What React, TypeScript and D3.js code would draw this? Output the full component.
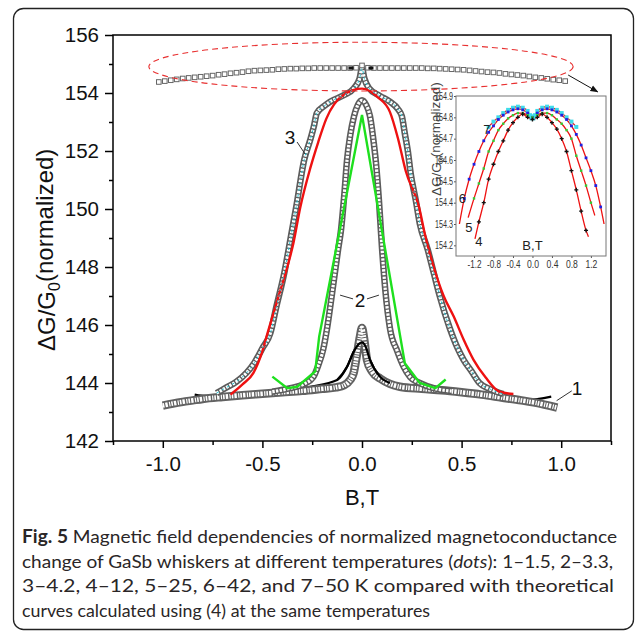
import { useEffect, useRef } from "react";
import * as d3 from "d3";

type P = [number, number];

// main axes
const yMajor = [142, 144, 146, 148, 150, 152, 154, 156];
const yMinor = [143, 145, 147, 149, 151, 153, 155];
const xMajor = [-1, -0.5, 0, 0.5, 1];
const xMinor = [-1.25, -0.75, -0.25, 0.25, 0.75, 1.25];

// inset axes
const iyTicks = [154.2, 154.3, 154.4, 154.5, 154.6, 154.7, 154.8, 154.9];
const ixTicks = [-1.2, -0.8, -0.4, 0, 0.4, 0.8, 1.2];

// 1.5 K dots (gray band)
const dots1: P[] = [
  [-1.0, 143.22], [-0.95, 143.29], [-0.9, 143.35], [-0.85, 143.4], [-0.8, 143.45],
  [-0.7, 143.52], [-0.6, 143.58], [-0.5, 143.63], [-0.4, 143.68], [-0.3, 143.73],
  [-0.2, 143.8], [-0.13, 143.85], [-0.09, 143.92], [-0.06, 144.1], [-0.042, 144.35],
  [-0.025, 145.0], [-0.01, 145.6], [0, 145.9], [0.01, 145.55], [0.025, 144.8],
  [0.05, 144.4], [0.092, 144.15], [0.14, 143.97], [0.19, 143.87], [0.3, 143.8],
  [0.4, 143.75], [0.5, 143.68], [0.6, 143.6], [0.7, 143.5], [0.8, 143.4],
  [0.9, 143.28], [0.98, 143.15],
];

// 3.3 K dots
const dots2: P[] = [
  [-0.45, 143.7], [-0.36, 143.82], [-0.29, 143.97], [-0.245, 144.2], [-0.22, 144.6],
  [-0.195, 145.15], [-0.175, 145.9], [-0.15, 147.1], [-0.12, 148.6], [-0.105, 149.3],
  [-0.09, 150.4], [-0.075, 151.7], [-0.06, 152.5], [-0.04, 153.2], [-0.02, 153.6],
  [0, 153.75], [0.02, 153.6], [0.04, 153.2], [0.055, 152.5], [0.07, 151.6],
  [0.085, 150.3], [0.1, 148.7], [0.117, 147.2], [0.14, 145.9], [0.177, 145.1],
  [0.21, 144.55], [0.242, 144.2], [0.29, 144.0], [0.36, 143.82], [0.45, 143.72],
];

// 4.2 K dots
const dots3: P[] = [
  [-0.73, 143.65], [-0.68, 143.85], [-0.63, 144.05], [-0.58, 144.35], [-0.54, 144.7],
  [-0.5, 145.2], [-0.46, 145.72], [-0.43, 146.63], [-0.39, 147.8], [-0.36, 148.93],
  [-0.33, 150.08], [-0.29, 151.7], [-0.26, 152.38], [-0.24, 152.9], [-0.227, 153.3],
  [-0.19, 153.55], [-0.16, 153.7], [-0.09, 153.93], [-0.04, 154.17], [-0.012, 154.5],
  [0, 154.85], [0.012, 154.5], [0.035, 154.17], [0.09, 153.9], [0.14, 153.7],
  [0.18, 153.45], [0.2, 153.2], [0.215, 152.6], [0.23, 152.0], [0.245, 151.2],
  [0.27, 150.3], [0.29, 149.5], [0.33, 148.6], [0.36, 147.8], [0.39, 147.0],
  [0.44, 145.9], [0.48, 145.2], [0.51, 144.8], [0.55, 144.4], [0.59, 144.0],
  [0.64, 143.8], [0.71, 143.62],
];

// theory curves, main plot
const theory1: P[] = [
  [-0.84, 143.6], [-0.78, 143.55], [-0.5, 143.68], [-0.26, 143.87], [-0.125, 144.1],
  [-0.075, 144.56], [-0.04, 145.1], [-0.015, 145.35], [0, 145.4], [0.015, 145.3],
  [0.04, 144.8], [0.09, 144.22], [0.14, 144.0], [0.24, 143.82], [0.5, 143.62],
  [0.83, 143.42], [0.95, 143.53],
];
const theory2: P[] = [
  [-0.45, 144.22], [-0.375, 143.82], [-0.325, 143.87], [-0.235, 144.4], [-0.215, 145.6],
  [0, 153.24], [0.215, 144.68], [0.29, 144.0], [0.368, 143.82], [0.42, 144.12],
];
const theory3: P[] = [
  [-0.66, 143.6], [-0.6, 143.95], [-0.545, 144.35], [-0.5, 145.1], [-0.475, 145.7],
  [-0.425, 146.85], [-0.375, 148.0], [-0.345, 148.8], [-0.31, 150.05], [-0.26, 151.4],
  [-0.22, 152.3], [-0.18, 153.1], [-0.09, 153.95], [0, 154.15], [0.08, 153.85],
  [0.14, 153.35], [0.18, 152.45], [0.22, 151.3], [0.285, 150.1], [0.32, 149.0],
  [0.36, 148.0], [0.41, 147.0], [0.46, 146.3], [0.51, 145.5], [0.56, 144.8],
  [0.62, 144.2], [0.69, 143.7], [0.76, 143.62],
];

// compressed high-T data shown in the ellipse
const rowPts: P[] = [
  [-1.02, 154.38], [-0.99, 154.41], [-0.96, 154.44], [-0.93, 154.47], [-0.9, 154.5],
  [-0.87, 154.52], [-0.84, 154.54], [-0.81, 154.56], [-0.78, 154.58], [-0.75, 154.6],
  [-0.72, 154.63], [-0.69, 154.65], [-0.66, 154.68], [-0.63, 154.7], [-0.6, 154.72],
  [-0.57, 154.75], [-0.54, 154.77], [-0.51, 154.78], [-0.48, 154.79], [-0.45, 154.8],
  [-0.42, 154.82], [-0.39, 154.83], [-0.36, 154.84], [-0.33, 154.84], [-0.3, 154.85],
  [-0.27, 154.85], [-0.24, 154.86], [-0.21, 154.86], [-0.18, 154.86], [-0.15, 154.86],
  [-0.12, 154.86], [-0.09, 154.86], [-0.06, 154.86], [-0.03, 154.87], [0, 154.95],
  [0.03, 154.87], [0.06, 154.86], [0.09, 154.86], [0.12, 154.86], [0.15, 154.86],
  [0.18, 154.86], [0.21, 154.86], [0.24, 154.86], [0.27, 154.86], [0.3, 154.86],
  [0.33, 154.85], [0.36, 154.85], [0.39, 154.84], [0.42, 154.83], [0.45, 154.82],
  [0.48, 154.81], [0.51, 154.8], [0.54, 154.78], [0.57, 154.76], [0.6, 154.74],
  [0.63, 154.72], [0.66, 154.71], [0.69, 154.69], [0.72, 154.66], [0.75, 154.64],
  [0.78, 154.62], [0.81, 154.6], [0.84, 154.57], [0.87, 154.54], [0.9, 154.52],
  [0.93, 154.49], [0.96, 154.46], [0.99, 154.44], [1.02, 154.41],
];
const rowMarks = [-0.055, 0.045];

// inset curves 4-7 (12, 25, 42, 50 K)
const inset4: P[] = [
  [-1.18, 154.23], [-1.1, 154.31], [-1.0, 154.4], [-0.9, 154.51], [-0.8, 154.58],
  [-0.7, 154.64], [-0.6, 154.69], [-0.5, 154.74], [-0.4, 154.775], [-0.3, 154.8],
  [-0.2, 154.815], [-0.1, 154.8], [0, 154.79], [0.1, 154.8], [0.2, 154.815],
  [0.3, 154.8], [0.4, 154.775], [0.5, 154.745], [0.6, 154.7], [0.7, 154.64],
  [0.8, 154.55], [0.9, 154.46], [1.0, 154.36], [1.1, 154.27], [1.15, 154.24],
];
const inset5: P[] = [
  [-1.32, 154.33], [-1.2, 154.42], [-1.1, 154.49], [-1.0, 154.56], [-0.9, 154.64],
  [-0.8, 154.69], [-0.7, 154.74], [-0.6, 154.77], [-0.5, 154.795], [-0.4, 154.81],
  [-0.3, 154.82], [-0.2, 154.82], [-0.1, 154.81], [0, 154.8], [0.1, 154.81],
  [0.2, 154.82], [0.3, 154.82], [0.4, 154.81], [0.5, 154.79], [0.6, 154.77],
  [0.7, 154.74], [0.8, 154.7], [0.9, 154.62], [1.0, 154.55], [1.1, 154.48],
  [1.2, 154.4], [1.28, 154.34],
];
const inset6: P[] = [
  [-1.5, 154.3], [-1.4, 154.42], [-1.3, 154.51], [-1.2, 154.58], [-1.1, 154.64],
  [-1.0, 154.69], [-0.9, 154.73], [-0.8, 154.76], [-0.7, 154.79], [-0.6, 154.81],
  [-0.5, 154.825], [-0.4, 154.835], [-0.3, 154.84], [-0.2, 154.835], [-0.1, 154.82],
  [0, 154.8], [0.1, 154.82], [0.2, 154.835], [0.3, 154.84], [0.4, 154.835],
  [0.5, 154.825], [0.6, 154.81], [0.7, 154.79], [0.8, 154.76], [0.9, 154.72],
  [1.0, 154.67], [1.1, 154.61], [1.2, 154.55], [1.3, 154.48], [1.4, 154.38],
  [1.47, 154.3],
];
const inset7: P[] = [
  [-0.9, 154.755], [-0.8, 154.78], [-0.7, 154.8], [-0.6, 154.82], [-0.5, 154.835],
  [-0.4, 154.845], [-0.3, 154.85], [-0.2, 154.845], [-0.1, 154.83], [-0.05, 154.81],
  [0, 154.8], [0.05, 154.81], [0.1, 154.83], [0.2, 154.845], [0.3, 154.85],
  [0.4, 154.845], [0.5, 154.835], [0.6, 154.82], [0.7, 154.8], [0.8, 154.78],
  [0.9, 154.755],
];

const captionLines = [
  "change of GaSb whiskers at different temperatures (",
  "3–4.2, 4–12, 5–25, 6–42, and 7–50 K compared with theoretical",
  "curves calculated using (4) at the same temperatures",
];

const SANS = "'Liberation Sans', Arial, sans-serif";

export default function App() {
  const ref = useRef<SVGSVGElement>(null);

  useEffect(() => {
    document.body.style.margin = "0";
    const el = ref.current;
    if (!el) return;
    const svg = d3.select(el);
    svg.selectAll("*").remove();

    const x = d3.scaleLinear().domain([-1.25, 1.25]).range([113, 611]);
    const y = d3.scaleLinear().domain([142, 156]).range([441, 35]);
    const ix = d3.scaleLinear().domain([-1.57, 1.51]).range([456, 606]);
    const iy = d3.scaleLinear().domain([154.15, 154.9]).range([256, 96]);

    // outer frame
    svg.append("rect")
      .attr("x", 13.5).attr("y", 8.5).attr("width", 620).attr("height", 621)
      .attr("rx", 10).attr("fill", "none").attr("stroke", "#222").attr("stroke-width", 1.3);

    const line = d3.line<P>().x((d) => x(d[0])).y((d) => y(d[1])).curve(d3.curveMonotoneX);
    const blackLine = (data: P[]) =>
      svg.append("path").datum(data).attr("d", line)
        .attr("fill", "none").attr("stroke", "#000").attr("stroke-width", 2.2);

    // 1.5 K theory mostly hidden under the band
    blackLine(theory1);

    // chains of open squares
    const chain = (data: P[], w: number, inner: number, dash: string, col: string) => {
      svg.append("path").datum(data).attr("d", line)
        .attr("fill", "none").attr("stroke", col).attr("stroke-width", w)
        .attr("stroke-linejoin", "round");
      svg.append("path").datum(data).attr("d", line)
        .attr("fill", "none").attr("stroke", "#fff").attr("stroke-width", inner)
        .attr("stroke-dasharray", dash);
    };
    chain(dots1, 8.5, 4.6, "1.6 1.1 2.4 1.4 1.2 1", "#626262");
    // centre part of the 1.5 K theory is visible beside the narrow peak
    blackLine(theory1.filter((d) => Math.abs(d[0]) < 0.2));
    chain(dots2, 6.5, 3.2, "2.4 1.3", "#5c5c5c");
    chain(dots3, 6.5, 3.2, "2.4 1.3", "#5c5c5c");

    // theory lines on top
    svg.append("path").datum(theory2)
      .attr("d", d3.line<P>().x((d) => x(d[0])).y((d) => y(d[1])))
      .attr("fill", "none").attr("stroke", "#1ee01e").attr("stroke-width", 2.4);
    svg.append("path").datum(theory3).attr("d", line)
      .attr("fill", "none").attr("stroke", "#ee1111").attr("stroke-width", 2.4);
    svg.append("path").datum(dots3).attr("d", line)
      .attr("fill", "none").attr("stroke", "#25c6d6").attr("stroke-width", 1)
      .attr("stroke-dasharray", "2.5 3.5");

    // top row of squares
    svg.append("g").selectAll("rect").data(rowPts).enter().append("rect")
      .attr("x", (d) => x(d[0]) - 2.3).attr("y", (d) => y(d[1]) - 2.3)
      .attr("width", 4.6).attr("height", 4.6)
      .attr("fill", "#fff").attr("stroke", "#666").attr("stroke-width", 1);
    svg.append("g").selectAll("rect").data(rowMarks).enter().append("rect")
      .attr("x", (d) => x(d) - 2.5).attr("y", y(154.86) - 1.5)
      .attr("width", 5).attr("height", 3).attr("fill", "#111");

    // dashed ellipse
    svg.append("ellipse")
      .attr("cx", x(-0.005)).attr("cy", y(154.91))
      .attr("rx", x(1.065) - x(0)).attr("ry", y(154.06) - y(154.9))
      .attr("fill", "none").attr("stroke", "#e83030").attr("stroke-width", 1.1)
      .attr("stroke-dasharray", "6 4");

    // arrow
    const defs = svg.append("defs");
    defs.append("marker").attr("id", "ah").attr("viewBox", "0 0 10 10")
      .attr("refX", 9).attr("refY", 5).attr("markerWidth", 8).attr("markerHeight", 8)
      .attr("orient", "auto")
      .append("path").attr("d", "M0,1 L10,5 L0,9 Z").attr("fill", "#111");
    svg.append("line")
      .attr("x1", x(1.035)).attr("y1", y(154.62)).attr("x2", x(1.183)).attr("y2", y(154.04))
      .attr("stroke", "#111").attr("stroke-width", 1).attr("marker-end", "url(#ah)");

    // axes
    const styleAxis = (g: any, fs: number) => {
      g.select(".domain").remove();
      g.selectAll(".tick line").attr("stroke", "#000").attr("stroke-width", 1.5);
      g.selectAll(".tick text").attr("fill", "#111")
        .style("font-size", `${fs}px`).style("font-family", SANS);
    };
    svg.append("g").attr("transform", "translate(113,0)")
      .call(d3.axisLeft(y).tickValues(yMajor).tickSize(8).tickPadding(6).tickFormat((d) => `${d}`))
      .call((g) => styleAxis(g, 20.5));
    svg.append("g").attr("transform", "translate(113,0)")
      .call(d3.axisLeft(y).tickValues(yMinor).tickSize(4).tickFormat(() => ""))
      .call((g) => styleAxis(g, 10));
    svg.append("g").attr("transform", "translate(0,441)")
      .call(d3.axisBottom(x).tickValues(xMajor).tickSize(7).tickPadding(8)
        .tickFormat((d) => (+d).toFixed(1)))
      .call((g) => styleAxis(g, 20.5));
    svg.append("g").attr("transform", "translate(0,441)")
      .call(d3.axisBottom(x).tickValues(xMinor).tickSize(4).tickFormat(() => ""))
      .call((g) => styleAxis(g, 10));
    svg.append("rect").attr("x", 113).attr("y", 35).attr("width", 498).attr("height", 406)
      .attr("fill", "none").attr("stroke", "#000").attr("stroke-width", 1.5);

    // axis titles (start-anchored, reading bottom to top)
    const yt = svg.append("text").attr("transform", "translate(55,351) rotate(-90)")
      .style("font-family", SANS).style("font-size", "24px").attr("fill", "#111");
    yt.append("tspan").text("ΔG/G");
    yt.append("tspan").attr("dy", "0.3em").style("font-size", "16px").text("0");
    yt.append("tspan").attr("dy", "-0.3em").text("(normalized)");
    svg.append("text").attr("x", 362).attr("y", 505).attr("text-anchor", "middle")
      .style("font-family", SANS).style("font-size", "22px").attr("fill", "#111").text("B,T");

    // curve labels
    const label = (t: string, b: number, v: number, fs: number) =>
      svg.append("text").attr("x", x(b)).attr("y", y(v)).attr("text-anchor", "middle")
        .style("font-family", SANS).style("font-size", `${fs}px`).attr("fill", "#111").text(t);
    const leader = (b1: number, v1: number, b2: number, v2: number) =>
      svg.append("line").attr("x1", x(b1)).attr("y1", y(v1)).attr("x2", x(b2)).attr("y2", y(v2))
        .attr("stroke", "#333").attr("stroke-width", 1);
    label("3", -0.361, 152.24, 19);
    leader(-0.326, 152.31, -0.286, 151.9);
    label("2", -0.01, 146.62, 19);
    leader(-0.11, 147.03, -0.045, 146.9);
    leader(0.025, 146.9, 0.085, 147.03);
    label("1", 1.079, 143.59, 19);
    leader(0.977, 143.39, 1.053, 143.73);

    // ---------- inset ----------
    svg.append("rect").attr("x", 456).attr("y", 96).attr("width", 150).attr("height", 160)
      .attr("fill", "#fff");
    const iline = d3.line<P>().x((d) => ix(d[0])).y((d) => iy(d[1])).curve(d3.curveMonotoneX);
    const ig = svg.append("g");
    [inset4, inset5, inset6, inset7].forEach((s) => {
      ig.append("path").datum(s).attr("d", iline).attr("fill", "none")
        .attr("stroke", "#ee1111").attr("stroke-width", 1.3);
    });
    const sq = (data: P[], s: number, color: string) =>
      ig.append("g").selectAll("rect").data(data).enter().append("rect")
        .attr("x", (d) => ix(d[0]) - s / 2).attr("y", (d) => iy(d[1]) - s / 2)
        .attr("width", s).attr("height", s).attr("fill", color);
    sq(inset7, 4, "#3fdcea");
    ig.append("rect").attr("x", ix(0) - 3).attr("y", iy(154.8) - 3)
      .attr("width", 6).attr("height", 6).attr("fill", "#3fdcea");
    sq(inset6.slice(1, -1), 2.8, "#2020e0");
    sq(inset5.slice(1, -1), 2.4, "#33cc33");
    ig.append("g").selectAll("path").data(inset4.slice(1, -1)).enter().append("path")
      .attr("transform", (d) => `translate(${ix(d[0])},${iy(d[1])})`)
      .attr("d", d3.symbol().type(d3.symbolCross).size(9))
      .attr("fill", "#111");

    const styleInset = (g: any) => {
      g.select(".domain").remove();
      g.selectAll(".tick line").attr("stroke", "#555").attr("stroke-width", 1);
      g.selectAll(".tick text").attr("fill", "#333")
        .style("font-size", "10px").style("font-family", SANS)
        .attr("lengthAdjust", "spacingAndGlyphs");
    };
    svg.append("g").attr("transform", "translate(456,0)")
      .call(d3.axisLeft(iy).tickValues(iyTicks).tickSize(2).tickPadding(1)
        .tickFormat((d) => (+d).toFixed(1)))
      .call(styleInset)
      .call((g) => g.selectAll(".tick text").attr("textLength", 18));
    svg.append("g").attr("transform", "translate(0,256)")
      .call(d3.axisBottom(ix).tickValues(ixTicks).tickSize(2).tickPadding(3)
        .tickFormat((d) => (+d).toFixed(1)))
      .call(styleInset)
      .call((g) => g.selectAll(".tick text").attr("textLength", (d: any) => (d < 0 ? 14 : 12)));
    svg.append("rect").attr("x", 456).attr("y", 96).attr("width", 150).attr("height", 160)
      .attr("fill", "none").attr("stroke", "#777").attr("stroke-width", 1);

    const it = svg.append("text").attr("transform", "translate(441,196) rotate(-90)")
      .style("font-family", SANS).style("font-size", "13.5px").attr("fill", "#444");
    it.append("tspan").text("ΔG/G");
    it.append("tspan").attr("dy", "0.3em").style("font-size", "9px").text("0");
    it.append("tspan").attr("dy", "-0.3em").text("(normalized)");
    svg.append("text").attr("x", ix(0)).attr("y", 249.5).attr("text-anchor", "middle")
      .style("font-family", SANS).style("font-size", "13px").attr("fill", "#222").text("B,T");
    const ilabel = (t: string, b: number, v: number) =>
      svg.append("text").attr("x", ix(b)).attr("y", iy(v)).attr("text-anchor", "middle")
        .style("font-family", SANS).style("font-size", "13px").attr("fill", "#222").text(t);
    ilabel("7", -0.934, 154.72);
    ilabel("6", -1.44, 154.398);
    ilabel("5", -1.304, 154.262);
    ilabel("4", -1.099, 154.197);

    // ---------- caption ----------
    const CAP = "Lato, 'Open Sans', sans-serif";
    const cap = (yy: number, len: number) =>
      svg.append("text").attr("x", 22).attr("y", yy).attr("textLength", len)
        .attr("lengthAdjust", "spacingAndGlyphs")
        .style("font-family", CAP).style("font-size", "18px").attr("fill", "#2a2627");
    const c1 = cap(543, 595);
    c1.append("tspan").style("font-weight", "bold").text("Fig. 5");
    c1.append("tspan").text(" Magnetic field dependencies of normalized magnetoconductance");
    const c2 = cap(567.5, 591);
    c2.append("tspan").text(captionLines[0]);
    c2.append("tspan").style("font-style", "italic").text("dots");
    c2.append("tspan").text("): 1–1.5, 2–3.3,");
    cap(592, 592).text(captionLines[1]);
    cap(616.5, 408).text(captionLines[2]);
  }, []);

  return <svg ref={ref} width={635} height={632} style={{ display: "block", background: "#fff" }} />;
}
